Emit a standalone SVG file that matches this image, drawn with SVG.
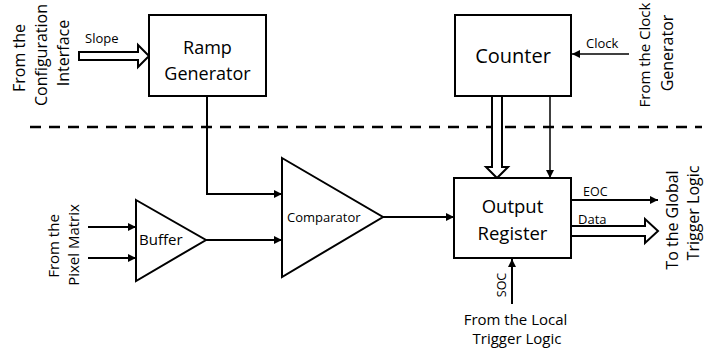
<svg xmlns="http://www.w3.org/2000/svg" width="706" height="351" viewBox="0 0 706 351">
  <style>
    text { font-family: "Open Sans", "Noto Sans", "DejaVu Sans", sans-serif; fill: #000; }
    .box { fill: #fff; stroke: #000; stroke-width: 2; }
    .wire { fill: none; stroke: #000; stroke-width: 2; }
    .thin { fill: none; stroke: #000; stroke-width: 1.5; }
    .bus { fill: #fff; stroke: #000; stroke-width: 2; stroke-linejoin: miter; }
    .mid { text-anchor: middle; }
  </style>
  <defs>
    <marker id="head" viewBox="0 0 8 8" refX="8" refY="4" markerWidth="8" markerHeight="8" markerUnits="userSpaceOnUse" orient="auto">
      <path d="M0,0 L8,4 L0,8 Z" fill="#000"/>
    </marker>
  </defs>

  <!-- boundary between the shared periphery and the pixel circuit -->
  <line x1="30" y1="127" x2="702" y2="127" stroke="#000" stroke-width="2.5" stroke-dasharray="11 8"/>

  <g id="connectors">
    <!-- ramp output to comparator upper input -->
    <path class="wire" d="M207,96 V194 H282" marker-end="url(#head)"/>
    <!-- pixel inputs to buffer -->
    <line class="wire" x1="88" y1="227" x2="136" y2="227" marker-end="url(#head)"/>
    <line class="wire" x1="88" y1="258" x2="136" y2="258" marker-end="url(#head)"/>
    <!-- buffer to comparator lower input -->
    <line class="wire" x1="206" y1="240" x2="282" y2="240" marker-end="url(#head)"/>
    <!-- comparator to output register -->
    <line class="wire" x1="383" y1="217" x2="454" y2="217" marker-end="url(#head)"/>
    <!-- clock into counter -->
    <line class="thin" x1="629" y1="54" x2="572" y2="54" marker-end="url(#head)"/>
    <!-- counter value bus into output register -->
    <polygon class="bus" points="492,96 502,96 502,167 508,167 497,178 486,167 492,167"/>
    <!-- counter control line -->
    <line class="thin" x1="550" y1="96" x2="550" y2="178" marker-end="url(#head)"/>
    <!-- slope bus into ramp generator -->
    <polygon class="bus" points="79,52 138,52 138,45 149,56 138,67 138,60 79,60"/>
    <!-- EOC out -->
    <line class="wire" x1="571" y1="200" x2="658" y2="200" marker-end="url(#head)"/>
    <!-- data bus out -->
    <polygon class="bus" points="571,226 645,226 645,219 658,231 645,243 645,236 571,236"/>
    <!-- SOC in -->
    <line class="wire" x1="512" y1="304" x2="512" y2="259" marker-end="url(#head)"/>
  </g>

  <g id="ramp-generator">
    <rect class="box" x="149" y="15" width="117" height="81"/>
    <text class="mid" x="207.5" y="54" font-size="18">Ramp</text>
    <text class="mid" x="207.5" y="80" font-size="18">Generator</text>
  </g>

  <g id="counter">
    <rect class="box" x="455" y="15" width="116" height="81"/>
    <text class="mid" x="513" y="63" font-size="20">Counter</text>
  </g>

  <g id="buffer">
    <polygon class="box" points="136,200 206,240 136,281"/>
    <text x="139" y="245" font-size="15">Buffer</text>
  </g>

  <g id="comparator">
    <polygon class="box" points="282,158 383,217 282,277"/>
    <text x="287" y="222" font-size="13">Comparator</text>
  </g>

  <g id="output-register">
    <rect class="box" x="454" y="178" width="117" height="80"/>
    <text class="mid" x="512.5" y="213" font-size="18.5">Output</text>
    <text class="mid" x="512.5" y="240" font-size="18.5">Register</text>
  </g>

  <g id="signal-labels">
    <text x="85" y="43" font-size="13">Slope</text>
    <text x="586" y="48" font-size="13">Clock</text>
    <text x="583" y="196" font-size="12.5">EOC</text>
    <text x="578" y="224" font-size="13">Data</text>
    <text class="mid" transform="translate(506,285) rotate(-90)" font-size="12.5">SOC</text>
  </g>

  <g id="source-labels">
    <text class="mid" transform="translate(25,58) rotate(-90)" font-size="16">From the</text>
    <text class="mid" transform="translate(47,55) rotate(-90)" font-size="16">Configuration</text>
    <text class="mid" transform="translate(69,53) rotate(-90)" font-size="16">Interface</text>

    <text class="mid" transform="translate(650,55) rotate(-90)" font-size="15">From the Clock</text>
    <text class="mid" transform="translate(673,53) rotate(-90)" font-size="16">Generator</text>

    <text class="mid" transform="translate(59,246) rotate(-90)" font-size="15">From the</text>
    <text class="mid" transform="translate(79,245) rotate(-90)" font-size="15">Pixel Matrix</text>

    <text class="mid" transform="translate(678,220) rotate(-90)" font-size="16">To the Global</text>
    <text class="mid" transform="translate(699,213) rotate(-90)" font-size="16">Trigger Logic</text>

    <text class="mid" x="515.5" y="325" font-size="15">From the Local</text>
    <text class="mid" x="517" y="344" font-size="15">Trigger Logic</text>
  </g>
</svg>
